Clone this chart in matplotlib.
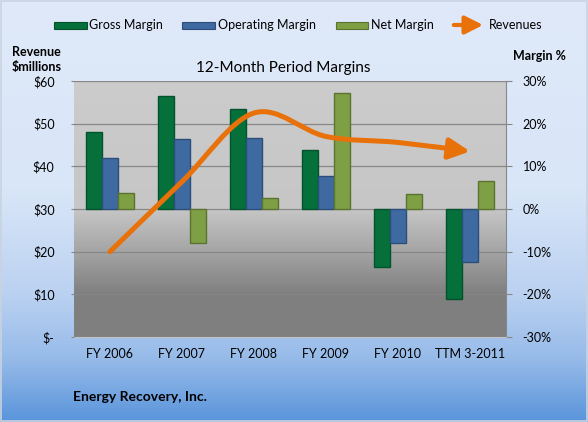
import matplotlib
matplotlib.use('Agg')
import matplotlib.pyplot as plt
import numpy as np
from matplotlib.colors import LinearSegmentedColormap
from matplotlib.patches import Rectangle, FancyArrowPatch
from matplotlib.path import Path

plt.rcParams['font.family'] = ['Lato', 'DejaVu Sans']

# data
periods = ['FY 2006', 'FY 2007', 'FY 2008', 'FY 2009', 'FY 2010', 'TTM 3-2011']
gross_margin = [18.1, 26.6, 23.5, 13.8, -13.6, -21.0]
operating_margin = [11.9, 16.4, 16.7, 7.7, -7.9, -12.4]
net_margin = [3.8, -7.9, 2.5, 27.2, 3.6, 6.6]
revenues = [20.0, 36.4, 52.5, 47.0, 45.6, 43.5]

rev_ticks = [0, 10, 20, 30, 40, 50, 60]
rev_labels = ['$-', '$10', '$20', '$30', '$40', '$50', '$60']
margin_ticks = [-30, -20, -10, 0, 10, 20, 30]
margin_labels = ['-30%', '-20%', '-10%', '0%', '10%', '20%', '30%']

C_GROSS = '#05703A'
C_OPER = '#3F6AA1'
C_NET = '#7F9F45'
C_REV = '#E8710A'

W, H = 588, 422
fig = plt.figure(figsize=(W / 100, H / 100), dpi=100)


def fx(px):
    return px / W


def fy(py):
    return 1 - py / H


# figure background gradient
bg = fig.add_axes([0, 0, 1, 1], zorder=-10)
bg_cmap = LinearSegmentedColormap.from_list('bg', [
    (0.0, '#DFE9F9'), (0.45, '#D9E6F8'), (0.7, '#BAD1F1'),
    (0.85, '#97BBE9'), (1.0, '#5A95DB')])
bg.imshow(np.linspace(0, 1, 256).reshape(-1, 1), cmap=bg_cmap, aspect='auto',
          extent=[0, 1, 0, 1])
bg.set_xlim(0, 1)
bg.set_ylim(0, 1)
bg.axis('off')
bg.add_patch(Rectangle((0.001, 0.002), 0.997, 0.995, fill=False,
                       edgecolor='#C9D3E0', lw=1.2))

# plot area: margins on the right axis, revenue on the left (twin)
ax = fig.add_axes([fx(74), fy(337), fx(506) - fx(74), (337 - 81) / H])
ax2 = ax.twinx()
n = len(periods)
x = np.arange(n)
ax.set_xlim(-0.5, n - 0.5)
ax.set_ylim(-30, 30)

pa_cmap = LinearSegmentedColormap.from_list('pa', [
    (0.0, '#7F7F7F'), (0.17, '#808080'), (0.35, '#A8A8A8'),
    (0.5, '#C6C6C6'), (1.0, '#CCCCCC')])
ax.imshow(np.linspace(0, 1, 256).reshape(-1, 1), cmap=pa_cmap, aspect='auto',
          origin='lower', extent=[-0.5, n - 0.5, -30, 30], zorder=0)

for t in margin_ticks[1:]:
    ax.axhline(t, color='#878787', lw=0.9, zorder=1)

bw = 0.222
ax.bar(x - bw, gross_margin, bw, color=C_GROSS, edgecolor='#03522B', lw=1.0, zorder=3)
ax.bar(x, operating_margin, bw, color=C_OPER, edgecolor='#2B4D78', lw=1.0, zorder=3)
ax.bar(x + bw, net_margin, bw, color=C_NET, edgecolor='#5A7430', lw=1.0, zorder=3)

ax.yaxis.tick_right()
ax.yaxis.set_label_position('right')
ax.set_yticks(margin_ticks)
ax.set_yticklabels(margin_labels, fontsize=9)
ax.tick_params(axis='y', direction='out', length=4, pad=8, color='#878787')
ax.set_xticks(x)
ax.set_xticklabels(periods, fontsize=9)
ax.tick_params(axis='x', length=0, pad=8)
for s in ['left', 'top']:
    ax.spines[s].set_visible(False)
ax.spines['right'].set_color('#878787')
ax.spines['bottom'].set_color('#C0C0C0')

ax2.set_ylim(0, 60)
ax2.yaxis.tick_left()
ax2.set_yticks(rev_ticks)
ax2.set_yticklabels(rev_labels, fontsize=9)
ax2.tick_params(axis='y', direction='out', length=2, pad=12, color='#878787')
for s in ax2.spines.values():
    s.set_visible(False)

# smoothed revenue line (Catmull-Rom style bezier) ending in an arrow head
pts = np.column_stack([x, revenues]).astype(float)
verts = [pts[0]]
codes = [Path.MOVETO]
for i in range(n - 1):
    p0 = pts[max(i - 1, 0)]
    p1 = pts[i]
    p2 = pts[i + 1]
    p3 = pts[min(i + 2, n - 1)]
    verts += [p1 + (p2 - p0) / 6, p2 - (p3 - p1) / 6, p2]
    codes += [Path.CURVE4] * 3
rev_path = Path(verts, codes)
arrow = FancyArrowPatch(path=rev_path, arrowstyle='-|>,head_length=0.9,head_width=0.45',
                        mutation_scale=14, color=C_REV, lw=3.6,
                        capstyle='round', transform=ax2.transData, zorder=5)
ax2.add_patch(arrow)

# texts
fig.text(fx(12), fy(52), 'Revenue', fontsize=9, fontweight='bold', va='center', ha='left')
fig.text(fx(12), fy(67), '$millions', fontsize=9, fontweight='bold', va='center', ha='left')
fig.text(fx(513), fy(56), 'Margin %', fontsize=9, fontweight='bold', va='center', ha='left')
fig.text(fx(283), fy(68), '12-Month Period Margins', fontsize=11, va='center', ha='center')
fig.text(fx(73), fy(397), 'Energy Recovery, Inc.', fontsize=10, fontweight='bold',
         va='center', ha='left')

# legend drawn across the top
ly = 25
legend_items = [
    ('Gross Margin', C_GROSS, '#03522B', 54, 87, 89),
    ('Operating Margin', C_OPER, '#2B4D78', 182, 215, 218),
    ('Net Margin', C_NET, '#5A7430', 336, 368, 371),
]
for label, fc, ec, x0, x1, tx in legend_items:
    fig.add_artist(Rectangle((fx(x0), fy(ly + 3.5)), fx(x1) - fx(x0), 7 / H,
                             facecolor=fc, edgecolor=ec, lw=0.8,
                             transform=fig.transFigure))
    fig.text(fx(tx), fy(ly), label, fontsize=9, va='center', ha='left')
fig.add_artist(FancyArrowPatch((fx(451), fy(ly)), (fx(486), fy(ly)),
                               arrowstyle='-|>,head_length=0.9,head_width=0.45',
                               mutation_scale=12, color=C_REV, lw=3.0,
                               transform=fig.transFigure))
fig.text(fx(489), fy(ly), 'Revenues', fontsize=9, va='center', ha='left')

fig.savefig('out.png', dpi=100)
